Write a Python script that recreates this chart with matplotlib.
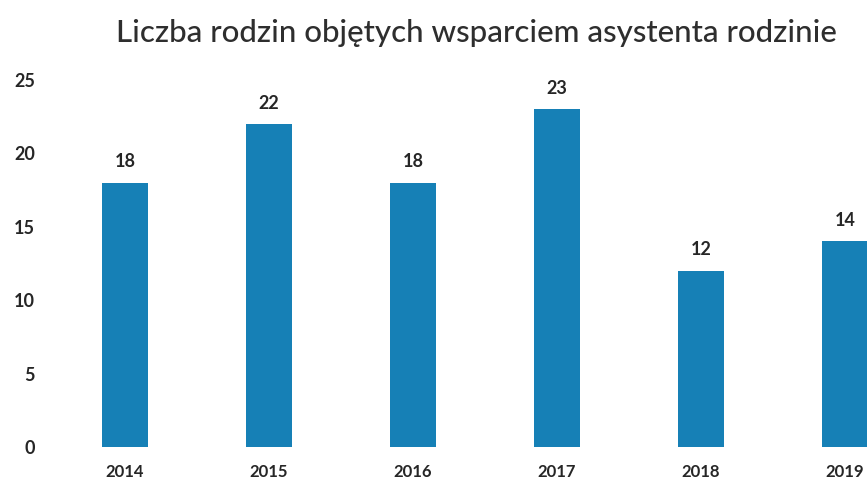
import matplotlib.pyplot as plt
import numpy as np

plt.rcParams['font.family'] = ['Lato', 'DejaVu Sans']

years = ['2014', '2015', '2016', '2017', '2018', '2019']
families = [18, 22, 18, 23, 12, 14]
y_ticks = [0, 5, 10, 15, 20, 25]

bar_color = '#1680b6'
text_color = '#262626'

fig = plt.figure(figsize=(8.67, 4.84), dpi=100)
# axes from pixel 60 to the right edge; y=0 at pixel 447, y=25 at pixel 80
ax = fig.add_axes([60 / 867, (484 - 447) / 484, 1 - 60 / 867, (447 - 80) / 484])

x = np.arange(len(years))
bars = ax.bar(x, families, width=0.315, color=bar_color)

for xi, v in zip(x, families):
    ax.annotate(str(v), (xi, v), xytext=(0, 9), textcoords='offset points',
                ha='center', va='bottom', fontsize=13, fontweight='bold',
                color=text_color)

ax.set_xlim((60 - 125) / 144, (867 - 125) / 144)
ax.set_ylim(0, 25)
ax.set_xticks(x)
ax.set_xticklabels(years, fontsize=12, fontweight='bold', color=text_color)
ax.set_yticks(y_ticks)
ax.set_yticklabels([str(t) for t in y_ticks], fontsize=13, fontweight='bold',
                   color=text_color)
ax.tick_params(axis='both', length=0)
ax.tick_params(axis='x', pad=12)
ax.tick_params(axis='y', pad=18)
for s in ax.spines.values():
    s.set_visible(False)

fig.text(476 / 867, 1 - 33 / 484, 'Liczba rodzin objętych wsparciem asystenta rodzinie',
         ha='center', va='center', fontsize=22.5, fontweight='medium', color='#2e2e2e')

fig.savefig('out.png', dpi=100)
